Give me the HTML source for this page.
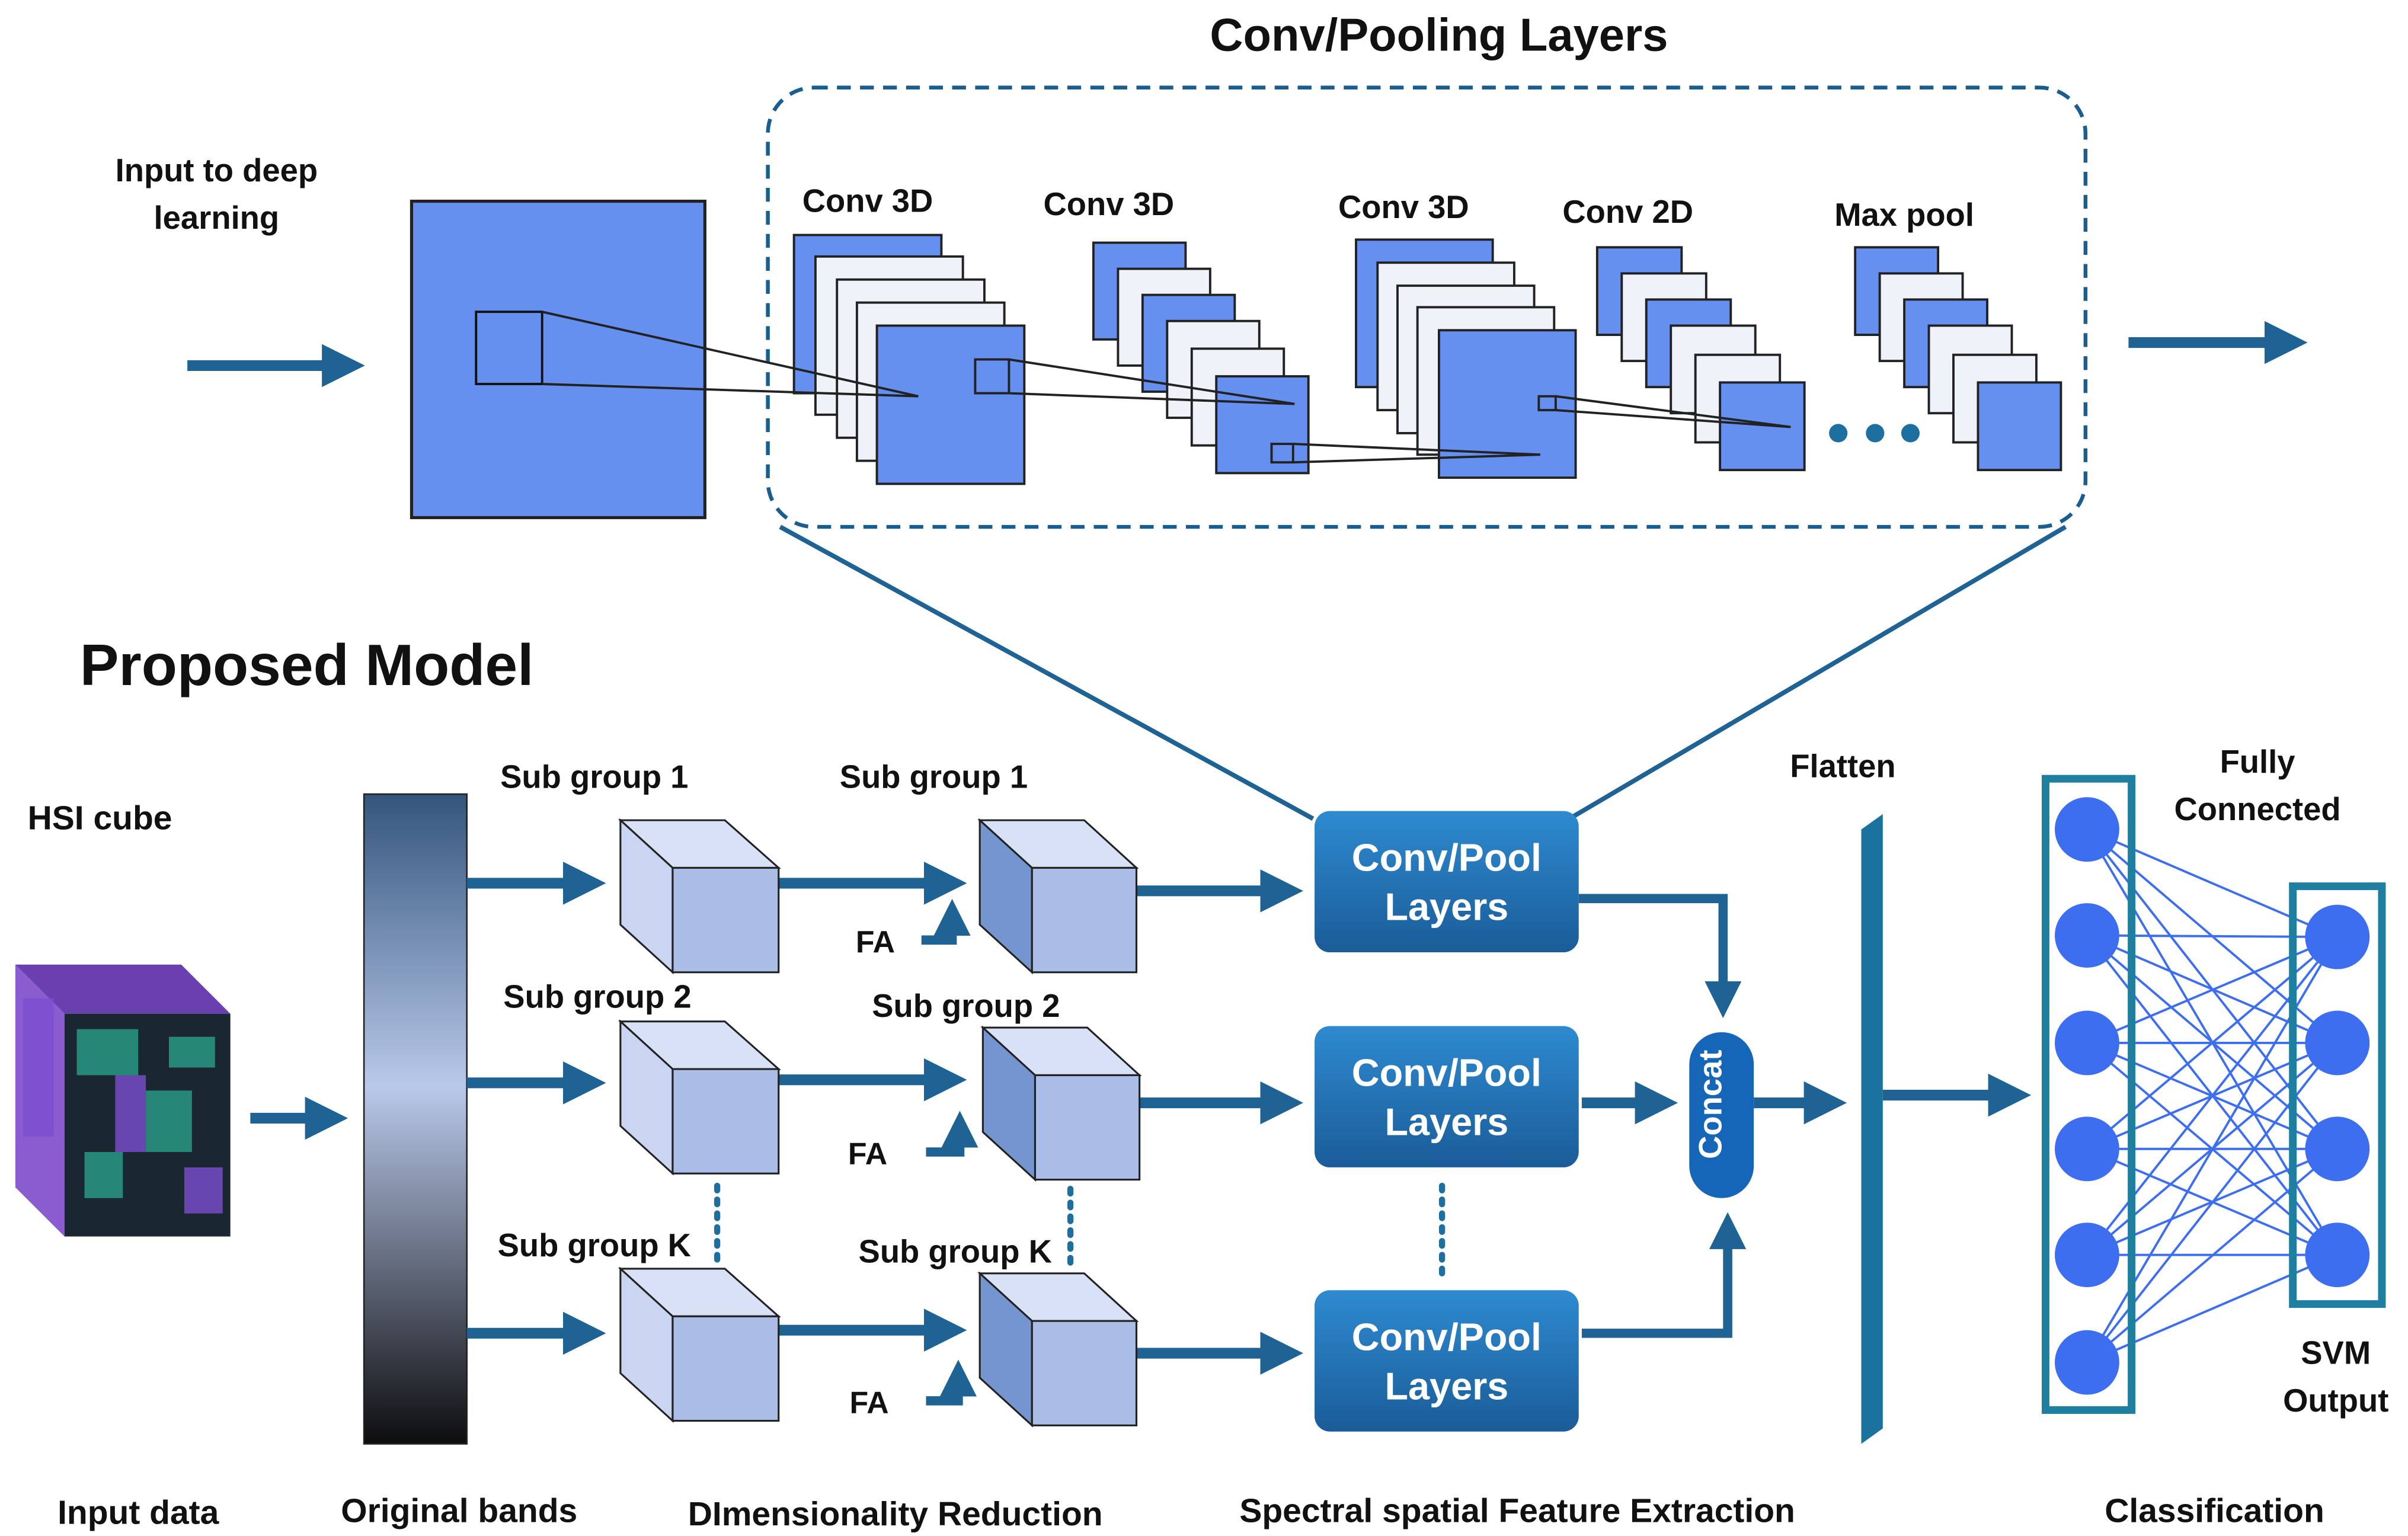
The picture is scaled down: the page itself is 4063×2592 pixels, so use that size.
<!DOCTYPE html>
<html><head><meta charset="utf-8"><style>
html,body{margin:0;padding:0;background:#fff}
svg{display:block}
text{font-family:"Liberation Sans",sans-serif;font-weight:bold;fill:#111}
</style></head><body>
<svg width="4063" height="2592" viewBox="0 0 1568 1000" preserveAspectRatio="none" xmlns="http://www.w3.org/2000/svg">
<defs>
<marker id="ah" markerWidth="4" markerHeight="4" refX="2.2" refY="2" orient="auto" markerUnits="strokeWidth"><path d="M0,0 L4,2 L0,4 z" fill="#1f6294"/></marker>
<linearGradient id="band" x1="0" y1="0" x2="0" y2="1"><stop offset="0" stop-color="#34557c"/><stop offset="0.45" stop-color="#b9c9ea"/><stop offset="1" stop-color="#0d0d0f"/></linearGradient>
<linearGradient id="cp" x1="0" y1="0" x2="0" y2="1"><stop offset="0" stop-color="#2e8ad0"/><stop offset="1" stop-color="#1a5c98"/></linearGradient>
</defs>
<text x="937" y="33" font-size="30" text-anchor="middle">Conv/Pooling Layers</text>
<rect x="500" y="57" width="858" height="286" rx="30" fill="none" stroke="#1a5e8f" stroke-width="2.5" stroke-dasharray="9,6"/>
<text x="141" y="118" font-size="21" text-anchor="middle">Input to deep</text>
<text x="141" y="149" font-size="21" text-anchor="middle">learning</text>
<line x1="122" y1="238" x2="225" y2="238" stroke="#1f6294" stroke-width="7" marker-end="url(#ah)"/>
<rect x="268" y="131" width="191" height="206" fill="#6690f0" stroke="#222" stroke-width="2"/>
<rect x="310" y="203" width="43" height="47" fill="none" stroke="#111" stroke-width="1.5"/>
<g stroke="#222" stroke-width="1.5">
<rect x="517" y="153" width="96" height="103" fill="#6690f0"/>
<rect x="531" y="167" width="96" height="103" fill="#f0f2fa"/>
<rect x="545" y="182" width="96" height="103" fill="#f0f2fa"/>
<rect x="558" y="197" width="96" height="103" fill="#f0f2fa"/>
<rect x="571" y="212" width="96" height="103" fill="#6690f0"/>
<rect x="712" y="158" width="60" height="63" fill="#6690f0"/>
<rect x="728" y="175" width="60" height="63" fill="#f0f2fa"/>
<rect x="744" y="192" width="60" height="63" fill="#6690f0"/>
<rect x="760" y="209" width="60" height="63" fill="#f0f2fa"/>
<rect x="776" y="227" width="60" height="63" fill="#f0f2fa"/>
<rect x="792" y="245" width="60" height="63" fill="#6690f0"/>
<rect x="883" y="156" width="89" height="96" fill="#6690f0"/>
<rect x="897" y="171" width="89" height="96" fill="#f0f2fa"/>
<rect x="910" y="186" width="89" height="96" fill="#f0f2fa"/>
<rect x="923" y="200" width="89" height="96" fill="#f0f2fa"/>
<rect x="937" y="215" width="89" height="96" fill="#6690f0"/>
<rect x="1040" y="161" width="55" height="57" fill="#6690f0"/>
<rect x="1056" y="178" width="55" height="57" fill="#f0f2fa"/>
<rect x="1072" y="195" width="55" height="57" fill="#6690f0"/>
<rect x="1088" y="212" width="55" height="57" fill="#f0f2fa"/>
<rect x="1104" y="231" width="55" height="57" fill="#f0f2fa"/>
<rect x="1120" y="249" width="55" height="57" fill="#6690f0"/>
<rect x="1208" y="161" width="54" height="57" fill="#6690f0"/>
<rect x="1224" y="178" width="54" height="57" fill="#f0f2fa"/>
<rect x="1240" y="195" width="54" height="57" fill="#6690f0"/>
<rect x="1256" y="212" width="54" height="57" fill="#f0f2fa"/>
<rect x="1272" y="231" width="54" height="57" fill="#f0f2fa"/>
<rect x="1288" y="249" width="54" height="57" fill="#6690f0"/>
<rect x="635" y="234" width="22" height="22" fill="none"/>
<rect x="828" y="289" width="14" height="12" fill="none"/>
<rect x="1002" y="258" width="11" height="9" fill="none"/>
<path d="M353,203 L598,258 M353,250 L598,258 M657,234 L843,263 M657,256 L843,263 M842,289 L1003,296 M842,301 L1003,296 M1013,258 L1166,278 M1013,267 L1166,278" fill="none"/>
</g>
<text x="565" y="138" font-size="21" text-anchor="middle">Conv 3D</text>
<text x="722" y="140" font-size="21" text-anchor="middle">Conv 3D</text>
<text x="914" y="142" font-size="21" text-anchor="middle">Conv 3D</text>
<text x="1060" y="145" font-size="21" text-anchor="middle">Conv 2D</text>
<text x="1240" y="147" font-size="21" text-anchor="middle">Max pool</text>
<g fill="#1d6fa0"><circle cx="1197" cy="282" r="6"/><circle cx="1221" cy="282" r="6"/><circle cx="1244" cy="282" r="6"/></g>
<line x1="1386" y1="223" x2="1490" y2="223" stroke="#1f6294" stroke-width="7" marker-end="url(#ah)"/>
<path d="M508,343 L855,533 M1345,343 L1022,533" stroke="#1f6294" stroke-width="3" fill="none"/>
<text x="52" y="446" font-size="38">Proposed Model</text>
<text x="18" y="540" font-size="22">HSI cube</text>
<!-- HSI cube -->
<polygon points="10,628 118,628 150,660 42,660" fill="#6a3fb0"/>
<polygon points="10,628 42,660 42,805 10,773" fill="#8a5cd0"/>
<rect x="42" y="660" width="108" height="145" fill="#1a2630"/>
<g fill="#2aa08a" opacity="0.8"><rect x="50" y="670" width="40" height="30"/><rect x="95" y="710" width="30" height="40"/><rect x="55" y="750" width="25" height="30"/><rect x="110" y="675" width="30" height="20"/></g>
<g fill="#7a4fd0" opacity="0.8"><rect x="75" y="700" width="20" height="50"/><rect x="120" y="760" width="25" height="30"/><rect x="15" y="650" width="20" height="90"/></g>
<line x1="163" y1="728" x2="214" y2="728" stroke="#1f6294" stroke-width="7" marker-end="url(#ah)"/>
<rect x="237" y="517" width="67" height="423" fill="url(#band)" stroke="#222" stroke-width="1"/>
<g stroke="#1f6294" stroke-width="7" marker-end="url(#ah)">
<line x1="304" y1="575" x2="382" y2="575"/><line x1="304" y1="705" x2="382" y2="705"/><line x1="304" y1="868" x2="382" y2="868"/>
<line x1="507" y1="575" x2="617" y2="575"/><line x1="507" y1="703" x2="617" y2="703"/><line x1="507" y1="866" x2="617" y2="866"/>
<line x1="740" y1="580" x2="836" y2="580"/><line x1="740" y1="718" x2="836" y2="718"/><line x1="740" y1="881" x2="836" y2="881"/>
<line x1="1030" y1="718" x2="1080" y2="718"/><line x1="1142" y1="718" x2="1190" y2="718"/><line x1="1226" y1="713" x2="1310" y2="713"/>
</g>
<g stroke="#1f6294" stroke-width="6" fill="none">
<path d="M1028,585 L1122,585 L1122,652" marker-end="url(#ah)"/>
<path d="M1030,868 L1125,868 L1125,800" marker-end="url(#ah)"/>
<path d="M600,612 L620,612 L620,596" marker-end="url(#ah)"/>
<path d="M603,750 L625,750 L625,734" marker-end="url(#ah)"/>
<path d="M603,912 L624,912 L624,896" marker-end="url(#ah)"/>
</g>
<!-- cubes -->
<g stroke="#222" stroke-width="1.2">
<g id="c1"><polygon points="404,534 472,534 507,565 438,565" fill="#d8e1f6"/><polygon points="404,534 438,565 438,633 404,602" fill="#c9d5f1"/><rect x="438" y="565" width="69" height="68" fill="#aabde6"/></g>
<use href="#c1" y="131"/><use href="#c1" y="292"/>
<g id="c2"><polygon points="638,534 706,534 740,565 672,565" fill="#d8e1f6"/><polygon points="638,534 672,565 672,633 638,602" fill="#7495d0"/><rect x="672" y="565" width="68" height="68" fill="#aabde6"/></g>
<use href="#c2" x="2" y="135"/><use href="#c2" y="295"/>
</g>
<text x="387" y="513" font-size="21" text-anchor="middle">Sub group 1</text>
<text x="389" y="656" font-size="21" text-anchor="middle">Sub group 2</text>
<text x="387" y="818" font-size="21" text-anchor="middle">Sub group K</text>
<text x="608" y="513" font-size="21" text-anchor="middle">Sub group 1</text>
<text x="629" y="662" font-size="21" text-anchor="middle">Sub group 2</text>
<text x="622" y="822" font-size="21" text-anchor="middle">Sub group K</text>
<text x="570" y="620" font-size="20" text-anchor="middle">FA</text>
<text x="565" y="758" font-size="20" text-anchor="middle">FA</text>
<text x="566" y="920" font-size="20" text-anchor="middle">FA</text>
<g stroke="#1d6fa0" stroke-width="4" stroke-dasharray="3,6" stroke-linecap="round">
<line x1="467" y1="772" x2="467" y2="820"/><line x1="697" y1="774" x2="697" y2="822"/><line x1="939" y1="772" x2="939" y2="830"/>
</g>
<g fill="url(#cp)">
<rect x="856" y="528" width="172" height="92" rx="10"/><rect x="856" y="668" width="172" height="92" rx="10"/><rect x="856" y="840" width="172" height="92" rx="10"/>
</g>
<g font-size="25" text-anchor="middle" style="fill:#fff">
<text x="942" y="567" style="fill:#fff">Conv/Pool</text><text x="942" y="599" style="fill:#fff">Layers</text>
<text x="942" y="707" style="fill:#fff">Conv/Pool</text><text x="942" y="739" style="fill:#fff">Layers</text>
<text x="942" y="879" style="fill:#fff">Conv/Pool</text><text x="942" y="911" style="fill:#fff">Layers</text>
</g>
<rect x="1100" y="672" width="42" height="108" rx="21" fill="#1565b8"/>
<text x="1128" y="726" font-size="21" text-anchor="middle" transform="rotate(-90 1121 726)" style="fill:#fff">Concat</text>
<text x="1200" y="506" font-size="21" text-anchor="middle">Flatten</text>
<polygon points="1212,540 1226,530 1226,930 1212,940" fill="#19739e"/>
<g stroke="#3d6ef0" stroke-width="1.5">
<path d="M1359,540 L1522,610 M1359,540 L1522,679 M1359,540 L1522,748 M1359,540 L1522,817 M1359,609 L1522,610 M1359,609 L1522,679 M1359,609 L1522,748 M1359,609 L1522,817 M1359,679 L1522,610 M1359,679 L1522,679 M1359,679 L1522,748 M1359,679 L1522,817 M1359,748 L1522,610 M1359,748 L1522,679 M1359,748 L1522,748 M1359,748 L1522,817 M1359,817 L1522,610 M1359,817 L1522,679 M1359,817 L1522,748 M1359,817 L1522,817 M1359,887 L1522,610 M1359,887 L1522,679 M1359,887 L1522,748 M1359,887 L1522,817"/>
</g>
<rect x="1332" y="507" width="56" height="411" fill="none" stroke="#1f7fa0" stroke-width="5"/>
<rect x="1493" y="577" width="58" height="272" fill="none" stroke="#1f7fa0" stroke-width="5"/>
<g fill="#3d6ef0">
<circle cx="1359" cy="540" r="21"/><circle cx="1359" cy="609" r="21"/><circle cx="1359" cy="679" r="21"/><circle cx="1359" cy="748" r="21"/><circle cx="1359" cy="817" r="21"/><circle cx="1359" cy="887" r="21"/>
<circle cx="1522" cy="610" r="21"/><circle cx="1522" cy="679" r="21"/><circle cx="1522" cy="748" r="21"/><circle cx="1522" cy="817" r="21"/>
</g>
<text x="1470" y="503" font-size="21" text-anchor="middle">Fully</text>
<text x="1470" y="534" font-size="21" text-anchor="middle">Connected</text>
<text x="1521" y="888" font-size="21" text-anchor="middle">SVM</text>
<text x="1521" y="919" font-size="21" text-anchor="middle">Output</text>
<g font-size="22" text-anchor="middle">
<text x="90" y="992">Input data</text>
<text x="299" y="991">Original bands</text>
<text x="583" y="993">DImensionality Reduction</text>
<text x="988" y="991">Spectral spatial Feature Extraction</text>
<text x="1442" y="991">Classification</text>
</g>
</svg>
</body></html>
